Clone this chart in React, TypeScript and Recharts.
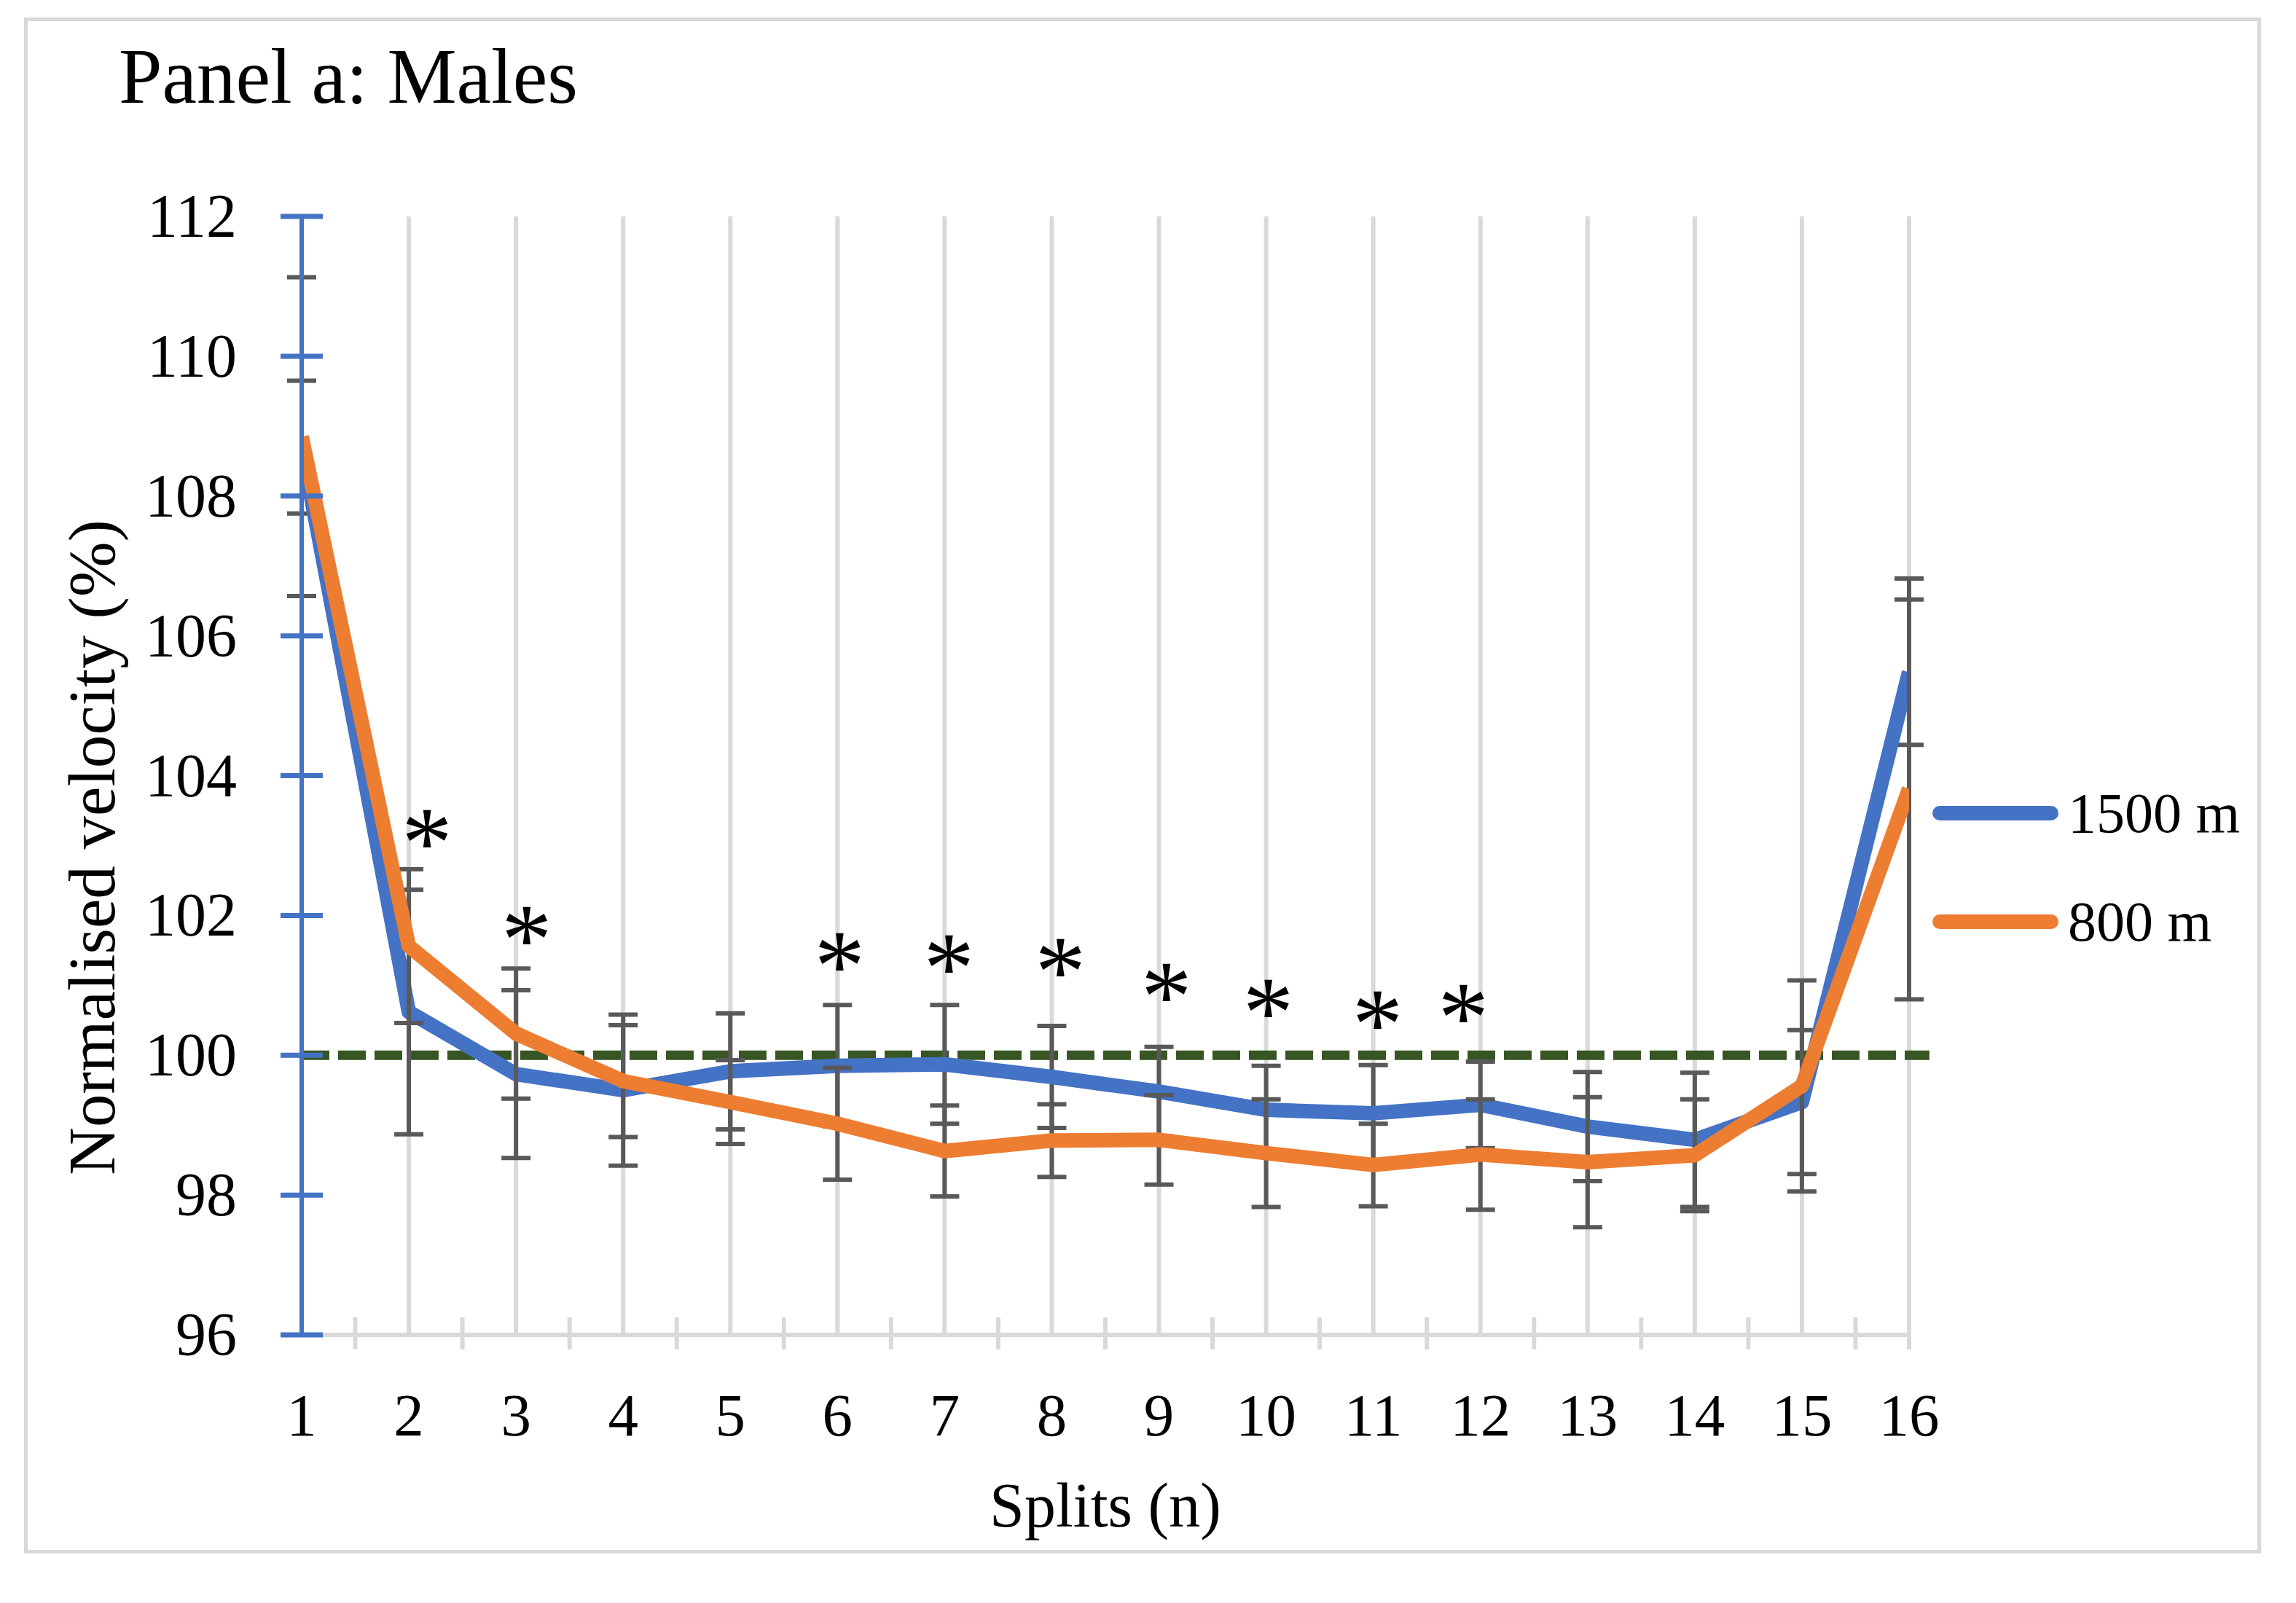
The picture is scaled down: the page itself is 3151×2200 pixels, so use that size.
import React from "react";
import {
  CartesianGrid,
  ComposedChart,
  ErrorBar,
  Legend,
  Line,
  ReferenceLine,
  Scatter,
  XAxis,
  YAxis,
} from "recharts";

// Splits and normalised velocity (% of mean race velocity), mean ± SD.
const splits = [1, 2, 3, 4, 5, 6, 7, 8, 9, 10, 11, 12, 13, 14, 15, 16];
const velocity1500 = [108.7, 100.62, 99.73, 99.5, 99.77, 99.85, 99.87, 99.69, 99.48, 99.22, 99.17, 99.29, 98.98, 98.79, 99.33, 105.48];
const sd1500 = [0.95, 1.75, 1.2, 1.08, 0.83, 0.87, 0.85, 0.73, 0.64, 0.63, 0.69, 0.62, 0.78, 0.96, 1.03, 1.04];
const velocity800 = [108.85, 101.56, 100.31, 99.63, 99.33, 99.02, 98.63, 98.78, 98.79, 98.6, 98.43, 98.58, 98.47, 98.57, 99.56, 103.81];
const sd800 = [2.28, 1.1, 0.93, 0.8, 0.6, 0.8, 0.65, 0.52, 0.64, 0.77, 0.59, 0.79, 0.93, 0.8, 1.51, 3.01];
const yTicks = [96, 98, 100, 102, 104, 106, 108, 110, 112];

// Significance markers (*) as placed on the figure.
const starSplits = [2.17, 3.1, 6.02, 7.04, 8.08, 9.07, 10.02, 11.04, 11.84];
const starLevels = [103.27, 101.88, 101.5, 101.47, 101.42, 101.07, 100.84, 100.67, 100.76];

const rows = splits.map((split, i) => ({
  split,
  v1500: velocity1500[i],
  e1500: sd1500[i],
  v800: velocity800[i],
  e800: sd800[i],
}));
const stars = starSplits.map((split, i) => ({ split, level: starLevels[i] }));

const W = 3151;
const H = 2200;
const PLOT_LEFT = 414;
const PLOT_RIGHT = 2620;
const PLOT_TOP = 297;
const FONT = "'Liberation Serif', 'Times New Roman', serif";
const BLUE = "#4472c4";
const ORANGE = "#ed7d31";
const GRID = "#d9d9d9";
const ERR = "#595959";
const STEP = (PLOT_RIGHT - PLOT_LEFT) / (splits.length - 1);

function YTick(props: any) {
  const { x, y, payload } = props;
  return (
    <g>
      <line x1={x - 29} x2={x + 29} y1={y} y2={y} stroke={BLUE} strokeWidth={7} />
      <text x={x - 89} y={y + 28} textAnchor="end" fontSize={84} fontFamily={FONT} fill="#000">
        {payload.value}
      </text>
    </g>
  );
}

function XTick(props: any) {
  const { x, y, payload } = props;
  const last = payload.value === splits[splits.length - 1];
  return (
    <g>
      {last ? (
        <line x1={x} x2={x} y1={y} y2={y + 20} stroke={GRID} strokeWidth={6} />
      ) : (
        <line x1={x + STEP / 2} x2={x + STEP / 2} y1={y - 24} y2={y + 20} stroke={GRID} strokeWidth={6} />
      )}
      <text x={x} y={y + 138} textAnchor="middle" fontSize={83} fontFamily={FONT} fill="#000">
        {payload.value}
      </text>
    </g>
  );
}

function StarMark(props: any) {
  const { cx, cy } = props;
  return (
    <text x={cx} y={cy + 68} textAnchor="middle" fontSize={140} fontFamily={FONT} fill="#000">
      *
    </text>
  );
}

function LegendBox({ payload }: any) {
  return (
    <svg width={480} height={260}>
      {(payload || []).map((p: any, i: number) => {
        const cy = 56 + i * 149;
        return (
          <g key={p.value}>
            <line x1={22} x2={175} y1={cy} y2={cy} stroke={p.color} strokeWidth={20} strokeLinecap="round" />
            <text x={198} y={cy + 26} fontSize={78} fontFamily={FONT} fill="#000">
              {p.value}
            </text>
          </g>
        );
      })}
    </svg>
  );
}

export default function App() {
  return (
    <div style={{ position: "absolute", left: 0, top: 0, width: W, height: H, background: "#fff", fontFamily: FONT }}>
      <div
        style={{
          position: "absolute",
          left: 33,
          top: 24,
          width: 3103 - 33,
          height: 2132 - 24,
          border: `5px solid ${GRID}`,
          boxSizing: "border-box",
        }}
      />
      <ComposedChart width={W} height={H} data={rows} margin={{ top: PLOT_TOP, right: W - PLOT_RIGHT, bottom: 0, left: 0 }}>
        <CartesianGrid horizontal={false} stroke={GRID} strokeWidth={6} />
        <XAxis
          dataKey="split"
          type="number"
          domain={[1, 16]}
          ticks={splits}
          interval={0}
          allowDataOverflow
          height={368}
          axisLine={{ stroke: GRID, strokeWidth: 6 }}
          tickLine={false}
          tickSize={0}
          tickMargin={0}
          tick={<XTick />}
          label={(p: any) => (
            <text
              x={p.viewBox.x + p.viewBox.width / 2}
              y={p.viewBox.y + 263}
              textAnchor="middle"
              fontSize={86}
              fontFamily={FONT}
              fill="#000"
            >
              Splits (n)
            </text>
          )}
        />
        <YAxis
          type="number"
          domain={[96, 112]}
          ticks={yTicks}
          interval={0}
          width={PLOT_LEFT}
          axisLine={{ stroke: BLUE, strokeWidth: 6 }}
          tickLine={false}
          tickSize={0}
          tickMargin={0}
          tick={<YTick />}
          label={() => (
            <text
              x={157}
              y={1163}
              transform="rotate(-90, 157, 1163)"
              textAnchor="middle"
              fontSize={91}
              fontFamily={FONT}
              fill="#000"
            >
              Normalised velocity (%)
            </text>
          )}
        />
        <ReferenceLine
          segment={[
            { x: 1, y: 100 },
            { x: 16.19, y: 100 },
          ]}
          stroke="#375623"
          strokeWidth={13}
          strokeDasharray="38 12"
          ifOverflow="visible"
        />
        <Line
          dataKey="v1500"
          name="1500 m"
          stroke={BLUE}
          strokeWidth={20}
          strokeLinejoin="round"
          dot={false}
          activeDot={false}
          isAnimationActive={false}
        >
          <ErrorBar dataKey="e1500" direction="y" width={20} strokeWidth={6} stroke={ERR} isAnimationActive={false} />
        </Line>
        <Line
          dataKey="v800"
          name="800 m"
          stroke={ORANGE}
          strokeWidth={20}
          strokeLinejoin="round"
          dot={false}
          activeDot={false}
          isAnimationActive={false}
        >
          <ErrorBar dataKey="e800" direction="y" width={20} strokeWidth={6} stroke={ERR} isAnimationActive={false} />
        </Line>
        <Scatter data={stars} dataKey="level" shape={<StarMark />} legendType="none" isAnimationActive={false} />
        <Legend
          content={<LegendBox />}
          layout="vertical"
          align="center"
          verticalAlign="middle"
          wrapperStyle={{ left: 2640, top: 1060, width: 480, height: 260 }}
        />
      </ComposedChart>
      <svg width={W} height={H} style={{ position: "absolute", left: 0, top: 0, pointerEvents: "none" }}>
        <text x={163} y={141} fontSize={107} fontFamily={FONT} fill="#000">
          Panel a: Males
        </text>
      </svg>
    </div>
  );
}
